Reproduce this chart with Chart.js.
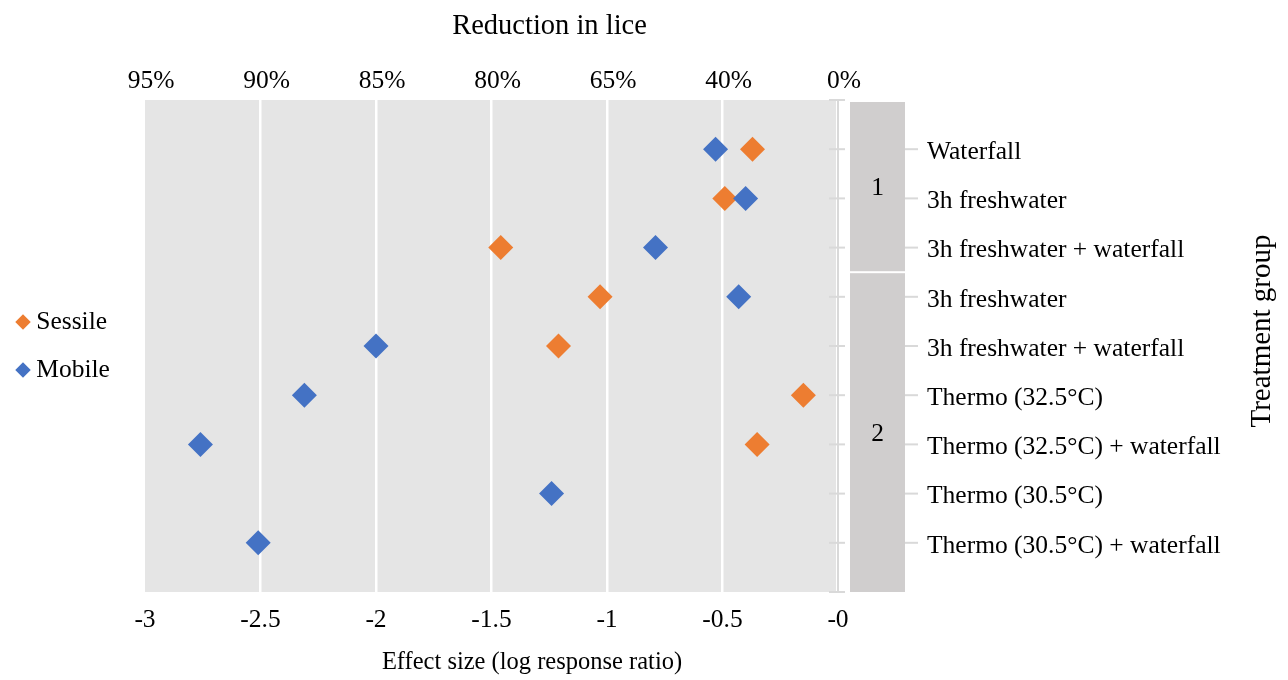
<!DOCTYPE html>
<html><head><meta charset="utf-8">
<script src="https://cdn.jsdelivr.net/npm/chart.js@4/dist/chart.umd.min.js"></script>
<style>html,body{margin:0;padding:0;background:#fff;} #wrap{width:1288px;height:680px;position:relative;}</style>
</head><body><div id="wrap"><canvas id="c" width="1288" height="680"></canvas></div>
<script>
// ---- data ----
const treatments = ['Waterfall','3h freshwater','3h freshwater + waterfall','3h freshwater','3h freshwater + waterfall','Thermo (32.5°C)','Thermo (32.5°C) + waterfall','Thermo (30.5°C)','Thermo (30.5°C) + waterfall'];
const groupLabels = ['1','2'];
const groupSizes = [3,6];
const sessile = [-0.37,-0.49,-1.46,-1.03,-1.21,-0.15,-0.35,null,null];
const mobile = [-0.53,-0.40,-0.79,-0.43,-2.00,-2.31,-2.76,-1.24,-2.51];
const effectTicks = ['-3','-2.5','-2','-1.5','-1','-0.5','-0'];
const reductionTicks = ['95%','90%','85%','80%','65%','40%','0%'];
const seriesNames = ['Sessile','Mobile'];
const seriesColors = ['#ED7D31','#4472C4'];
const titleTop = 'Reduction in lice';
const titleBottom = 'Effect size (log response ratio)';
const titleRight = 'Treatment group';

const FONT = "'Liberation Serif','Times New Roman',serif";
const toPoints = arr => arr.map((v,i)=> v===null ? null : ({x:v, y:i+1})).filter(p=>p);

const decor = {
  id:'decor',
  afterInit(chart){
    const lg = chart.legend;
    if (lg) { const f = lg.fit.bind(lg); lg.fit = function(){ f(); this.width = 145; }; }
  },
  beforeDraw(chart){
    const {ctx, chartArea:a} = chart;
    ctx.save();
    ctx.fillStyle = '#e5e5e5';
    ctx.fillRect(a.left, a.top, a.right - a.left - 2, a.bottom - a.top);
    ctx.restore();
  },
  afterDraw(chart){
    const {ctx, chartArea:a} = chart;
    const y = chart.scales.y;
    ctx.save();
    // group bands
    let start = 0;
    groupSizes.forEach((n, gi) => {
      const first = start + 1, last = start + n;
      const v0 = gi === 0 ? y.min : first - 0.5;
      const v1 = gi === groupSizes.length - 1 ? y.max : last + 0.5;
      let p0 = y.getPixelForValue(v0), p1 = y.getPixelForValue(v1);
      p0 += gi === 0 ? 2 : 1; p1 -= gi === groupSizes.length - 1 ? 0 : 1;
      ctx.fillStyle = '#d0cece';
      ctx.fillRect(a.right + 12, p0, 55, p1 - p0);
      ctx.fillStyle = '#000';
      ctx.font = '25.5px ' + FONT;
      ctx.textAlign = 'center'; ctx.textBaseline = 'middle';
      ctx.fillText(groupLabels[gi], a.right + 39.5, (p0 + p1) / 2 + 2);
      start += n;
    });
    // tick marks
    ctx.strokeStyle = '#d9d9d9'; ctx.lineWidth = 2;
    for (let v = y.min; v <= y.max; v++) {
      const py = y.getPixelForValue(v);
      ctx.beginPath(); ctx.moveTo(a.right - 9, py); ctx.lineTo(a.right + 7, py); ctx.stroke();
      if (v > y.min && v < y.max) {
        ctx.beginPath(); ctx.moveTo(a.right + 67, py); ctx.lineTo(a.right + 80, py); ctx.stroke();
      }
    }
    // titles
    ctx.fillStyle = '#000';
    ctx.textAlign = 'center'; ctx.textBaseline = 'middle';
    const cx = (a.left + a.right) / 2;
    ctx.font = '28.5px ' + FONT;
    ctx.fillText(titleTop, cx + 58, 27);
    ctx.font = '24.5px ' + FONT;
    ctx.fillText(titleBottom, cx + 40.5, 663);
    ctx.translate(chart.width - 26, (a.top + a.bottom) / 2 - 15);
    ctx.rotate(-Math.PI / 2);
    ctx.font = '29px ' + FONT;
    ctx.fillText(titleRight, 0, 0);
    ctx.restore();
  }
};

new Chart(document.getElementById('c'), {
  type: 'scatter',
  data: {
    datasets: [
      { label: seriesNames[0], data: toPoints(sessile), backgroundColor: seriesColors[0], borderColor: seriesColors[0],
        pointStyle: 'rectRot', pointRadius: 12.5, pointHoverRadius: 12.5, borderWidth: 0, order: 1 },
      { label: seriesNames[1], data: toPoints(mobile), backgroundColor: seriesColors[1], borderColor: seriesColors[1],
        pointStyle: 'rectRot', pointRadius: 12.5, pointHoverRadius: 12.5, borderWidth: 0, order: 0 }
    ]
  },
  options: {
    responsive: false, animation: false, maintainAspectRatio: false,
    layout: { padding: 0 },
    plugins: {
      tooltip: { enabled: false },
      legend: {
        position: 'left', align: 'center', fullSize: false,
        labels: { usePointStyle: true, boxWidth: 1, boxHeight: 11, padding: 22.5, color: '#000',
                  font: { family: FONT, size: 25.5 },
                  sort: (a, b) => a.datasetIndex - b.datasetIndex }
      }
    },
    scales: {
      x: {
        type: 'linear', position: 'bottom', min: -3, max: 0,
        afterFit: s => { s.height = 88; },
        ticks: { stepSize: 0.5, padding: 13, color: '#000', font: { family: FONT, size: 25.5 },
                 callback: (v, i) => effectTicks[i] },
        grid: { drawTicks: false, lineWidth: 2.5,
                color: c => (c.tick && (c.tick.value === -3 || c.tick.value === 0)) ? 'rgba(0,0,0,0)' : '#ffffff' },
        border: { display: false }
      },
      x2: {
        type: 'linear', position: 'top', min: -3, max: 0,
        afterFit: s => { s.height = 100; },
        ticks: { stepSize: 0.5, padding: 3, labelOffset: 6, color: '#000', font: { family: FONT, size: 25.5 },
                 callback: (v, i) => reductionTicks[i] },
        grid: { display: false, drawTicks: false },
        border: { display: false }
      },
      y: {
        type: 'linear', position: 'right', reverse: true, min: 0, max: 10,
        afterFit: s => { s.width = 450; s.paddingTop = 0; s.paddingBottom = 0; },
        ticks: { stepSize: 1, autoSkip: false, padding: 0, labelOffset: 3, color: '#000', font: { family: FONT, size: 25.5 },
                 callback: v => treatments[v - 1] || '' },
        grid: { drawOnChartArea: false, drawTicks: true, tickLength: 89, tickColor: 'rgba(0,0,0,0)' },
        border: { display: true, color: '#d9d9d9', width: 2 }
      }
    }
  },
  plugins: [decor]
});
</script>
</body></html>
